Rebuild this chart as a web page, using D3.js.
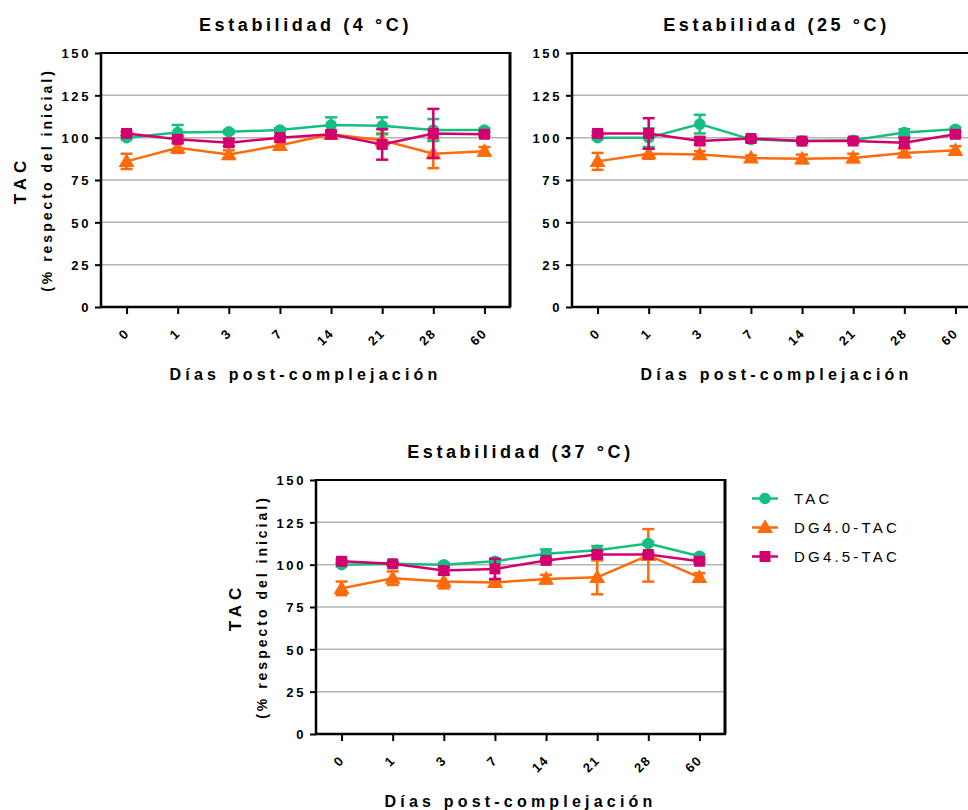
<!DOCTYPE html>
<html>
<head>
<meta charset="utf-8">
<script src="https://cdn.jsdelivr.net/npm/d3@7"></script>
<style>
  html, body { margin: 0; padding: 0; background: #fff; }
  svg text { font-family: "Liberation Sans", Arial, Helvetica, sans-serif; }
</style>
</head>
<body>
<svg id="chart" width="968" height="810"></svg>
<script>
// ---------- data ----------
const days = ["0", "1", "3", "7", "14", "21", "28", "60"];
const yTicks = [0, 25, 50, 75, 100, 125, 150];
const seriesNames = ["TAC", "DG4.0-TAC", "DG4.5-TAC"];
const panelTitles = ["Estabilidad (4 °C)", "Estabilidad (25 °C)", "Estabilidad (37 °C)"];

// 4 °C
const tac4 = [100, 103, 103.5, 104.5, 107.5, 107, 104.5, 104.5];
const tac4Err = [1, 4.5, 1, 1, 4.5, 5, 6.5, 1];
const dg40_4 = [86, 94, 90, 95.5, 102, 98.5, 90.5, 92];
const dg40_4Err = [4.5, 3, 2.5, 2, 2, 4, 8.5, 2.5];
const dg45_4 = [102.5, 99, 97, 100, 102, 96, 102.5, 102];
const dg45_4Err = [1, 2, 2, 1, 2, 9, 14.5, 1];

// 25 °C
const tac25 = [100, 100, 108, 99, 98, 98.5, 103, 105];
const tac25Err = [1, 5.5, 5.5, 1.5, 1, 1, 2, 1];
const dg40_25 = [86, 90.5, 90, 88, 87.5, 88, 91, 92.5];
const dg40_25Err = [5, 3, 2, 1.5, 2.5, 2.5, 2.5, 2.5];
const dg45_25 = [102.5, 102.5, 98, 99.5, 98, 98, 97, 102];
const dg45_25Err = [1, 9, 2, 1, 1, 1, 3, 1];

// 37 °C
const tac37 = [100, 100.5, 100, 102, 106.5, 108.5, 112.5, 105];
const tac37Err = [1, 1, 1, 1, 2.5, 2.5, 1, 1];
const dg40_37 = [86, 92, 90, 89.5, 91.5, 92.5, 105.5, 92.5];
const dg40_37Err = [4, 4, 4, 1.5, 2.5, 10, 15.5, 2.5];
const dg45_37 = [102, 100.5, 96.5, 97.5, 102.5, 106, 106, 102];
const dg45_37Err = [1, 1, 2, 6, 1, 2, 1, 1];

// ---------- styling ----------
const colors = ["#14BF80", "#FF6A0A", "#D2006E"];
const symbols = [d3.symbolCircle, d3.symbolTriangle, d3.symbolSquare];
const symSizes = [105, 110, 120];
const drawOrder = [1, 0, 2];

const svg = d3.select("#chart");
const W = 409, H = 254;

function drawPanel(left, top, title, vals, errs, showYTitle) {
  const x = d3.scalePoint().domain(days).range([left, left + W]).padding(0.5);
  const y = d3.scaleLinear().domain([0, 150]).range([top + H, top]);
  const g = svg.append("g");

  // grid
  g.append("g").selectAll("line").data(yTicks.filter(t => t > 0)).join("line")
    .attr("x1", left).attr("x2", left + W)
    .attr("y1", d => y(d)).attr("y2", d => y(d))
    .attr("stroke", "#b4b4b4").attr("stroke-width", 1.5);

  // frame top & right
  g.append("line").attr("x1", left).attr("x2", left + W).attr("y1", y(150)).attr("y2", y(150))
    .attr("stroke", "#000").attr("stroke-width", 2);
  g.append("line").attr("x1", left + W).attr("x2", left + W).attr("y1", y(150) - 1).attr("y2", y(0))
    .attr("stroke", "#000").attr("stroke-width", 3);

  // y axis
  const ya = g.append("g").attr("transform", `translate(${left},0)`)
    .call(d3.axisLeft(y).tickValues(yTicks).tickSize(6).tickFormat(d3.format("d")));
  ya.select(".domain").attr("stroke", "#000").attr("stroke-width", 2.5).attr("d", `M0,${top - 1}V${top + H + 1}`);
  ya.selectAll(".tick line").attr("stroke", "#000").attr("stroke-width", 2);
  ya.selectAll(".tick text").attr("x", -10).attr("dy", "0.36em")
    .style("font-size", "13px").style("font-weight", "bold").style("letter-spacing", "2.6px").attr("fill", "#000");

  // x axis
  const xa = g.append("g").attr("transform", `translate(0,${top + H})`)
    .call(d3.axisBottom(x).tickSize(7).tickFormat(d => d));
  xa.select(".domain").attr("stroke", "#000").attr("stroke-width", 2.5).attr("d", `M${left - 1},0H${left + W + 1}`);
  xa.selectAll(".tick line").attr("stroke", "#000").attr("stroke-width", 2);
  xa.selectAll(".tick text")
    .attr("y", 0).attr("dy", 0)
    .attr("transform", "translate(3,27) rotate(-45)")
    .attr("text-anchor", "end")
    .style("font-size", "13px").style("font-weight", "bold").style("letter-spacing", "1.5px").attr("fill", "#000");

  // title
  g.append("text").attr("x", left + W / 2).attr("y", top - 22)
    .attr("text-anchor", "middle")
    .style("font-size", "18px").style("font-weight", "bold").style("letter-spacing", "3.6px")
    .text(title);

  // x axis title
  g.append("text").attr("x", left + W / 2).attr("y", top + H + 73)
    .attr("text-anchor", "middle")
    .style("font-size", "16px").style("font-weight", "bold").style("letter-spacing", "4.2px")
    .text("Días post-complejación");

  // y axis titles
  if (showYTitle) {
    const cy = top + H / 2;
    g.append("text").attr("transform", `translate(${left - 75},${cy}) rotate(-90)`)
      .attr("text-anchor", "middle")
      .style("font-size", "17px").style("font-weight", "bold").style("letter-spacing", "5px")
      .text("TAC");
    g.append("text").attr("transform", `translate(${left - 49},${cy}) rotate(-90)`)
      .attr("text-anchor", "middle")
      .style("font-size", "14px").style("font-weight", "bold").style("letter-spacing", "3px")
      .text("(% respecto del inicial)");
  }

  // series
  drawOrder.forEach(si => {
    const v = vals[si], e = errs[si], c = colors[si];
    const sg = g.append("g");
    const pts = days.map((d, i) => ({ d, v: v[i], e: e[i] }));
    // error bars
    sg.selectAll("line.err").data(pts).join("line").attr("class", "err")
      .attr("x1", p => x(p.d)).attr("x2", p => x(p.d))
      .attr("y1", p => y(p.v - p.e)).attr("y2", p => y(p.v + p.e))
      .attr("stroke", c).attr("stroke-width", 2.5);
    ["top", "bot"].forEach(k => {
      sg.selectAll("line.cap" + k).data(pts).join("line").attr("class", "cap" + k)
        .attr("x1", p => x(p.d) - 6).attr("x2", p => x(p.d) + 6)
        .attr("y1", p => y(k === "top" ? p.v + p.e : p.v - p.e))
        .attr("y2", p => y(k === "top" ? p.v + p.e : p.v - p.e))
        .attr("stroke", c).attr("stroke-width", 2.5);
    });
    // line
    sg.append("path").datum(pts)
      .attr("d", d3.line().x(p => x(p.d)).y(p => y(p.v)))
      .attr("fill", "none").attr("stroke", c).attr("stroke-width", 2.5);
    // markers
    sg.selectAll("path.m").data(pts).join("path").attr("class", "m")
      .attr("transform", p => `translate(${x(p.d)},${y(p.v) + (si === 1 ? 1 : 0)})`)
      .attr("d", d3.symbol().type(symbols[si]).size(symSizes[si]))
      .attr("fill", c);
  });
}

drawPanel(101, 53, panelTitles[0], [tac4, dg40_4, dg45_4], [tac4Err, dg40_4Err, dg45_4Err], true);
drawPanel(572, 53, panelTitles[1], [tac25, dg40_25, dg45_25], [tac25Err, dg40_25Err, dg45_25Err], false);
drawPanel(316, 480, panelTitles[2], [tac37, dg40_37, dg45_37], [tac37Err, dg40_37Err, dg45_37Err], true);

// legend
const lg = svg.append("g");
seriesNames.forEach((n, i) => {
  const ly = 498.5 + i * 29;
  lg.append("line").attr("x1", 752).attr("x2", 778).attr("y1", ly).attr("y2", ly)
    .attr("stroke", colors[i]).attr("stroke-width", 2.5);
  lg.append("path").attr("transform", `translate(765,${ly + (i === 1 ? 1 : 0)})`)
    .attr("d", d3.symbol().type(symbols[i]).size(symSizes[i])).attr("fill", colors[i]);
  lg.append("text").attr("x", 794).attr("y", ly).attr("dy", "0.36em")
    .style("font-size", "15px").style("letter-spacing", "3.2px")
    .text(n);
});
</script>
</body>
</html>
